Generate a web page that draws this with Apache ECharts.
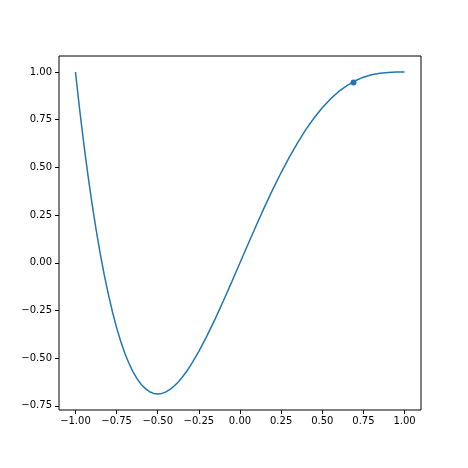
<!DOCTYPE html>
<html>
<head>
<meta charset="utf-8">
<script src="https://cdn.jsdelivr.net/npm/echarts@6/dist/echarts.min.js"></script>
<style>
html,body{margin:0;padding:0;background:#fff;}
#chart{width:468px;height:468px;}
</style>
</head>
<body>
<div id="chart"></div>
<script>
// Curve samples
const xValues = [-1.00,-0.975,-0.95,-0.925,-0.90,-0.875,-0.85,-0.825,-0.80,-0.775,-0.75,-0.725,-0.70,-0.675,-0.65,-0.625,-0.60,-0.575,-0.55,-0.525,-0.50,-0.475,-0.45,-0.425,-0.40,-0.375,-0.35,-0.325,-0.30,-0.25,-0.20,-0.15,-0.10,-0.05,0.00,0.05,0.10,0.15,0.20,0.25,0.30,0.35,0.40,0.45,0.50,0.55,0.60,0.65,0.70,0.75,0.80,0.85,0.90,0.95,1.00];
const yValues = [1.000,0.807,0.629,0.465,0.314,0.176,0.050,-0.064,-0.166,-0.258,-0.340,-0.412,-0.474,-0.527,-0.572,-0.609,-0.638,-0.660,-0.676,-0.685,-0.688,-0.685,-0.677,-0.664,-0.646,-0.625,-0.599,-0.570,-0.538,-0.465,-0.382,-0.293,-0.198,-0.100,0.000,0.100,0.198,0.294,0.386,0.473,0.554,0.629,0.698,0.759,0.813,0.859,0.898,0.929,0.954,0.973,0.986,0.994,0.998,1.000,1.000];
// Highlighted point
const pointX = [0.69];
const pointY = [0.945];
// Tick labels
const xTicks = [-1.00,-0.75,-0.50,-0.25,0.00,0.25,0.50,0.75,1.00];
const yTicks = [-0.75,-0.50,-0.25,0.00,0.25,0.50,0.75,1.00];

const fmt = v => (v < 0 ? '\u2212' : '') + Math.abs(v).toFixed(2);
const lineData = xValues.map((x, i) => [x, yValues[i]]);
const pointData = pointX.map((x, i) => [x, pointY[i]]);

const chart = echarts.init(document.getElementById('chart'), null, {renderer: 'canvas'});
chart.setOption({
  animation: false,
  backgroundColor: '#fff',
  grid: {left: 59, right: 47, top: 56, bottom: 58, show: true, borderColor: '#000', borderWidth: 1, backgroundColor: 'transparent'},
  xAxis: {
    type: 'value', min: -1.1, max: 1.1,
    axisLine: {show: false, onZero: false},
    splitLine: {show: false},
    axisTick: {show: true, inside: false, length: 4, lineStyle: {color: '#000', width: 1}, customValues: xTicks},
    axisLabel: {customValues: xTicks, formatter: fmt, color: '#000', fontSize: 10, fontFamily: 'DejaVu Sans', margin: 6}
  },
  yAxis: {
    type: 'value', min: -0.772, max: 1.084,
    axisLine: {show: false, onZero: false},
    splitLine: {show: false},
    axisTick: {show: true, inside: false, length: 4, lineStyle: {color: '#000', width: 1}, customValues: yTicks},
    axisLabel: {customValues: yTicks, formatter: fmt, color: '#000', fontSize: 10, fontFamily: 'DejaVu Sans', margin: 7}
  },
  series: [
    {type: 'line', data: lineData, showSymbol: false, smooth: false,
     lineStyle: {color: '#1f77b4', width: 1.5}, itemStyle: {color: '#1f77b4'}},
    {type: 'scatter', data: pointData, symbolSize: 6, itemStyle: {color: '#1f77b4', opacity: 1}}
  ]
});
</script>
</body>
</html>
